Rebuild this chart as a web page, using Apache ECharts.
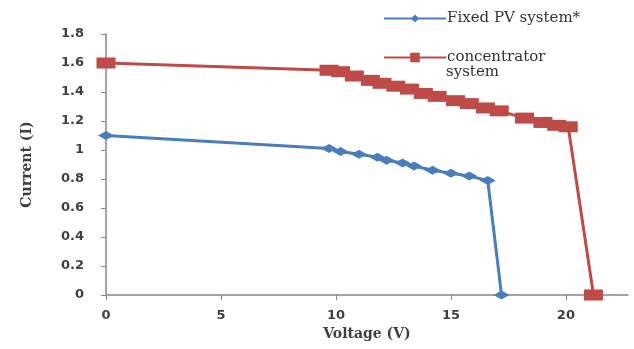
<!DOCTYPE html>
<html><head><meta charset="utf-8">
<script src="https://cdn.jsdelivr.net/npm/echarts@6/dist/echarts.min.js"></script>
<style>html,body{margin:0;padding:0;background:#fff}#c{width:634px;height:349px}</style>
</head><body><div id="c"></div>
<script>
const fixedV = [0, 9.7, 10.2, 11.0, 11.8, 12.2, 12.9, 13.4, 14.2, 15.0, 15.8, 16.6, 17.2];
const fixedI = [1.1, 1.01, 0.99, 0.97, 0.95, 0.93, 0.91, 0.89, 0.86, 0.84, 0.82, 0.79, 0];
const concV = [0, 9.7, 10.2, 10.8, 11.5, 12.0, 12.6, 13.2, 13.8, 14.4, 15.2, 15.8, 16.5, 17.1, 18.2, 19.0, 19.6, 20.1, 21.2];
const concI = [1.6, 1.55, 1.54, 1.51, 1.48, 1.46, 1.44, 1.42, 1.39, 1.37, 1.34, 1.32, 1.29, 1.27, 1.22, 1.19, 1.17, 1.16, 0];
const yTicks = [0, 0.2, 0.4, 0.6, 0.8, 1, 1.2, 1.4, 1.6, 1.8];
const xTicks = [0, 5, 10, 15, 20];
const names = ['Fixed PV system*', 'concentrator system'];

const pair = (a, b) => a.map((v, i) => [v, b[i]]);
const chart = echarts.init(document.getElementById('c'));
const axisFont = {fontFamily: 'DejaVu Sans', fontWeight: 'bold', fontSize: 13, color: '#404040'};
const legFont = {fontFamily: 'DejaVu Serif', fontSize: 15, color: '#333'};
chart.setOption({
  animation: false,
  grid: {left: 106, right: 6, top: 34, bottom: 54},
  legend: [
    {data: [names[0]], left: 378, top: 6, itemWidth: 62, itemHeight: 10, itemGap: 0,
     textStyle: {...legFont, padding: [0,0,0,-4]}},
    {data: [names[1]], left: 378, top: 45, itemWidth: 62, itemHeight: 12, itemGap: 0,
     formatter: () => 'concentrator',
     textStyle: {...legFont, padding: [0,0,0,-4]}}
  ],
  graphic: [{type: 'text', left: 446, top: 65, style: {text: 'system', fontFamily: legFont.fontFamily, fontSize: legFont.fontSize, fill: legFont.color}}],
  xAxis: {
    type: 'value', min: 0, max: 22.7, interval: 5,
    name: 'Voltage (V)', nameLocation: 'middle', nameGap: 32,
    nameTextStyle: {fontFamily: 'DejaVu Serif', fontWeight: 'bold', fontSize: 14, color: '#404040'},
    axisLine: {lineStyle: {color: '#868686', width: 1.5}},
    axisTick: {show: true, length: 5, lineStyle: {color: '#868686'}},
    axisLabel: {...axisFont, margin: 14, showMaxLabel: false, formatter: v => xTicks.includes(v) ? String(v) : ''},
    splitLine: {show: false}
  },
  yAxis: {
    type: 'value', min: 0, max: 1.8, interval: 0.2,
    name: 'Current (I)', nameLocation: 'middle', nameGap: 72, nameRotate: 90,
    nameTextStyle: {fontFamily: 'DejaVu Serif', fontWeight: 'bold', fontSize: 14, color: '#404040'},
    axisLine: {show: true, lineStyle: {color: '#868686', width: 1.5}},
    axisTick: {show: true, length: 5, lineStyle: {color: '#868686'}},
    axisLabel: {...axisFont, margin: 22, formatter: v => { const t = yTicks.find(k => Math.abs(k - v) < 1e-6); return t === undefined ? '' : String(t); }},
    splitLine: {show: false}
  },
  series: [
    {name: names[0], type: 'line', data: pair(fixedV, fixedI), symbol: 'diamond', symbolSize: [16, 9],
     lineStyle: {color: '#4a7ebb', width: 3}, itemStyle: {color: '#4a7ebb'}},
    {name: names[1], type: 'line', data: pair(concV, concI), symbol: 'rect', symbolSize: [19, 11],
     lineStyle: {color: '#be4b48', width: 3}, itemStyle: {color: '#be4b48'}}
  ]
});
</script></body></html>
